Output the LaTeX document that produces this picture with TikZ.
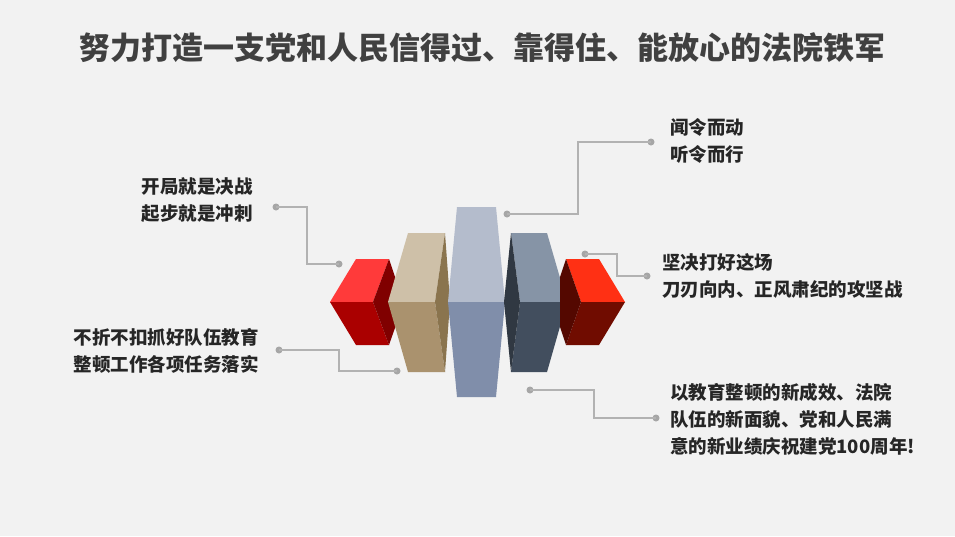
\documentclass[tikz,border=0pt]{standalone}
\usepackage{fontspec}
\setmainfont{Noto Sans CJK SC}
\begin{document}
\begin{tikzpicture}[x=1pt,y=-1pt,
  lead/.style={draw=black!30,line width=1.2pt},
  dotc/.style={circle,fill=black!35,inner sep=0pt,minimum size=7pt},
  txt/.style={font=\bfseries\fontsize{18.5}{27}\selectfont,inner sep=0pt,text=black!85}]
\useasboundingbox[fill={rgb,255:red,242;green,242;blue,242}] (0,0) rectangle (955,536);
\node[font=\bfseries\fontsize{31}{34}\selectfont,text=black!75] (title) at (482,48) {努力打造一支党和人民信得过、靠得住、能放心的法院铁军};
% left red cube
\fill[fill={rgb,255:red,255;green,58;blue,58}] (330,302)--(356,259)--(389,259)--(373,302)--cycle;
\fill[fill={rgb,255:red,170;green,0;blue,0}] (330,302)--(373,302)--(389,345)--(356,345)--cycle;
\fill[fill={rgb,255:red,128;green,0;blue,0}] (389,259)--(396,280)--(396,325)--(389,345)--(373,302)--cycle;
% tan
\fill[fill={rgb,255:red,206;green,192;blue,168}] (388,302)--(408,233)--(445,233)--(435,302)--cycle;
\fill[fill={rgb,255:red,170;green,146;blue,110}] (388,302)--(435,302)--(445,372)--(408,372)--cycle;
\fill[fill={rgb,255:red,138;green,116;blue,78}] (445,233)--(450,302)--(445,372)--(435,302)--cycle;
% center
\fill[fill={rgb,255:red,180;green,188;blue,204}] (448,302)--(457,207)--(496,207)--(505,302)--cycle;
\fill[fill={rgb,255:red,128;green,142;blue,170}] (448,302)--(505,302)--(496,397)--(457,397)--cycle;
% dark grey
\fill[fill={rgb,255:red,134;green,148;blue,166}] (520,302)--(511,233)--(547,233)--(567,302)--cycle;
\fill[fill={rgb,255:red,66;green,78;blue,94}] (520,302)--(567,302)--(547,372)--(511,372)--cycle;
\fill[fill={rgb,255:red,48;green,56;blue,66}] (511,233)--(520,302)--(511,372)--(504,302)--cycle;
% right red
\fill[fill={rgb,255:red,255;green,48;blue,20}] (581,302)--(566,259)--(599,259)--(625,302)--cycle;
\fill[fill={rgb,255:red,112;green,12;blue,0}] (581,302)--(625,302)--(599,345)--(566,345)--cycle;
\fill[fill={rgb,255:red,84;green,8;blue,0}] (566,259)--(560,277)--(560,327)--(566,345)--(581,302)--cycle;
% leaders
\node[dotc] (a1) at (507,214) {}; \node[dotc] (a2) at (651,142) {};
\draw[lead] (a1.center) -- (578,214) -- (578,142) -- (a2.center);
\node[dotc] (b1) at (585,254) {}; \node[dotc] (b2) at (647,276) {};
\draw[lead] (b1.center) -- (617,254) -- (617,276) -- (b2.center);
\node[dotc] (c1) at (276,207) {}; \node[dotc] (c2) at (339,264) {};
\draw[lead] (c1.center) -- (307,207) -- (307,264) -- (c2.center);
\node[dotc] (d1) at (279,350) {}; \node[dotc] (d2) at (397,371) {};
\draw[lead] (d1.center) -- (339,350) -- (339,371) -- (d2.center);
\node[dotc] (e1) at (530,390) {}; \node[dotc] (e2) at (656,418) {};
\draw[lead] (e1.center) -- (594,390) -- (594,418) -- (e2.center);
% texts
\node[txt,anchor=west,align=left] (t1) at (670,141) {闻令而动\\听令而行};
\node[txt,anchor=west,align=left] (t2) at (662,276) {坚决打好这场\\刀刃向内、正风肃纪的攻坚战};
\node[txt,anchor=east,align=left] (t3) at (253,200) {开局就是决战\\起步就是冲刺};
\node[txt,anchor=east,align=left] (t4) at (259,351) {不折不扣抓好队伍教育\\整顿工作各项任务落实};
\node[txt,anchor=west,align=left] (t5) at (670,419) {以教育整顿的新成效、法院\\队伍的新面貌、党和人民满\\意的新业绩庆祝建党100周年!};
\end{tikzpicture}
\end{document}
